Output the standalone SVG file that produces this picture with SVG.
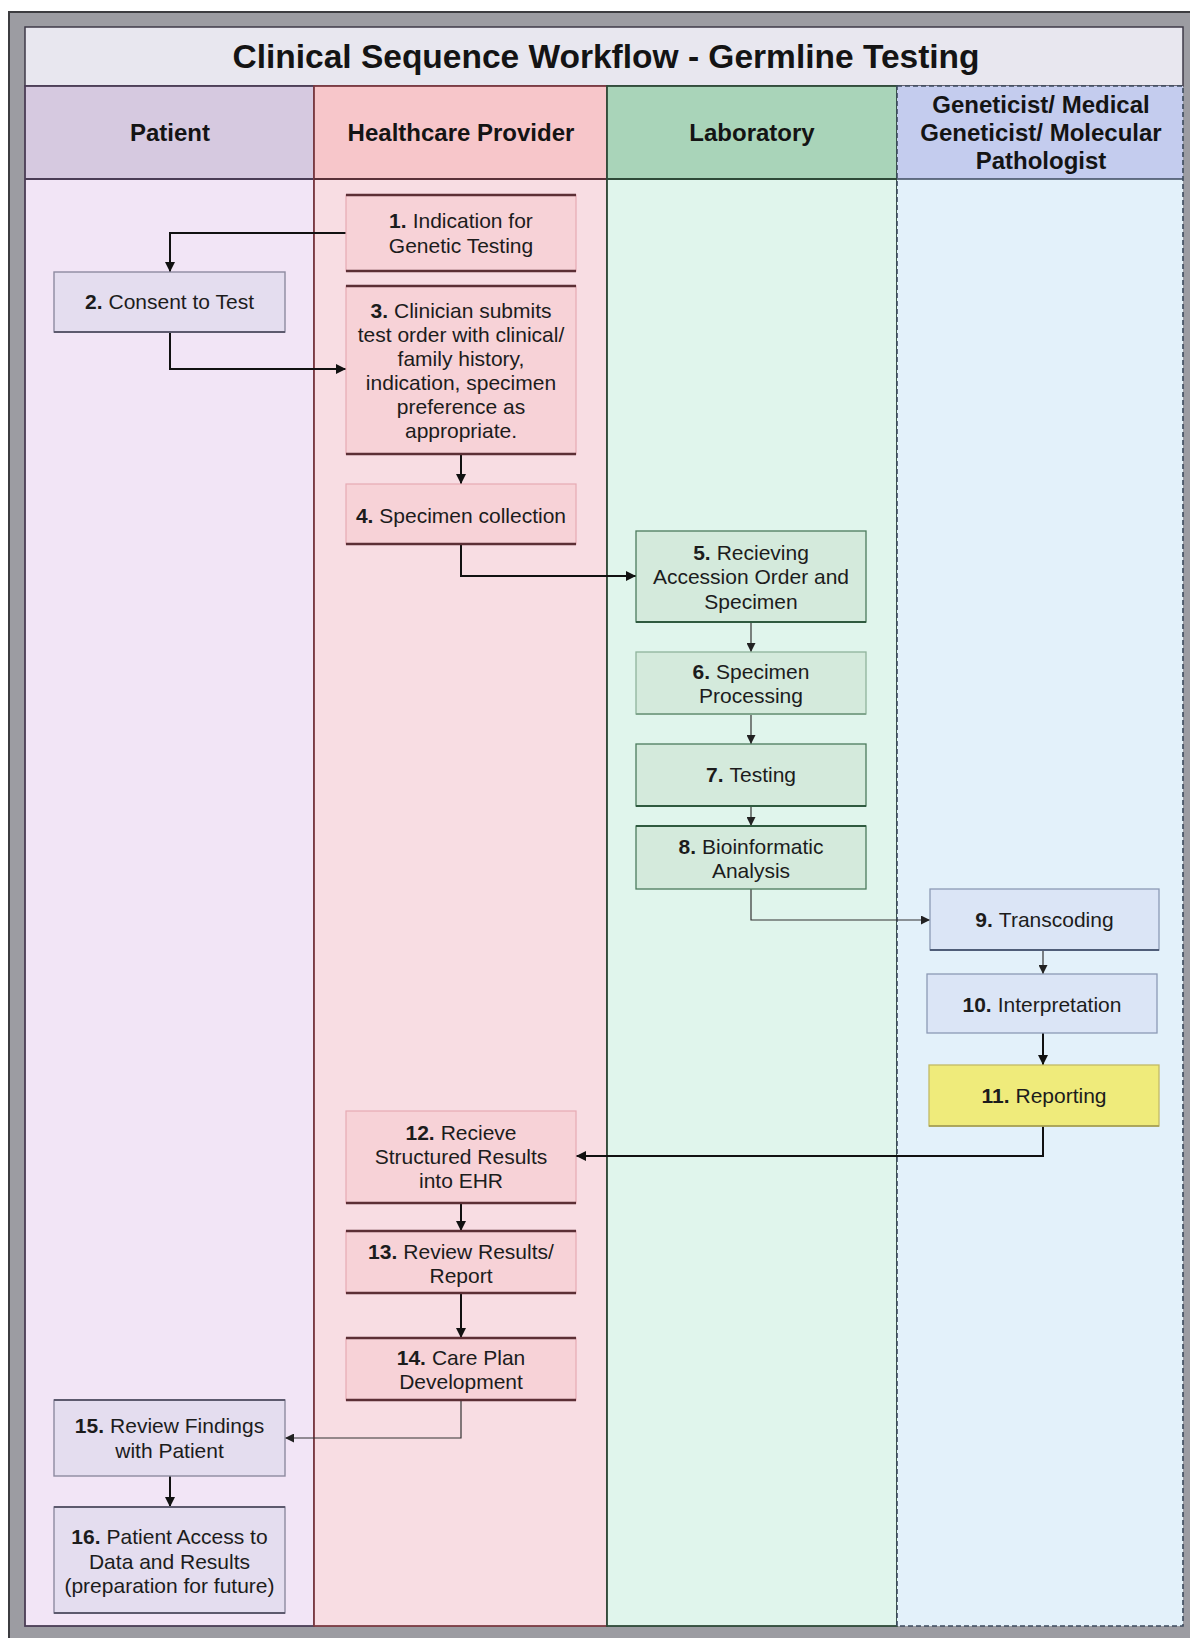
<svg xmlns="http://www.w3.org/2000/svg" width="1190" height="1638" viewBox="0 0 1190 1638">
  <style>
    text { font-family: "Liberation Sans", Arial, sans-serif; fill: #141414; text-anchor: middle; }
    .title { font-size: 33.5px; font-weight: bold; }
    .lane-title { font-size: 24px; font-weight: bold; }
    .lbl { font-size: 21px; fill: #1c1c1c; }
    .num { font-weight: bold; }
    .conn { fill: none; stroke: #111; stroke-width: 2; }
    .conn-thin { fill: none; stroke: #333; stroke-width: 1.2; }
    /* node looks per lane */
    .hp-box { fill: #f7d2d7; stroke: #e7aab3; stroke-width: 1.2; }
    .hp-edge { stroke: #5c2f35; stroke-width: 2.4; }
    .pt-box { fill: #e4ddef; stroke: #8e8aa0; stroke-width: 1.4; }
    .pt-edge { stroke: #5d5a6e; stroke-width: 1.8; }
    .lab-box { fill: #d4eadc; stroke: #4c7a5c; stroke-width: 1.3; }
    .lab-edge { stroke: #2f5a3f; stroke-width: 1.8; }
    .gen-box { fill: #dbe5f6; stroke: #8d9ab5; stroke-width: 1.3; }
    .gen-edge { stroke: #4f5d78; stroke-width: 1.8; }
    .rep-box { fill: #efeb7b; stroke: #c2bb66; stroke-width: 1.3; }
    .rep-edge { stroke: #a09a50; stroke-width: 1.6; }
  </style>
  <defs>
    <marker id="arrow" viewBox="0 0 10 10" refX="10" refY="5" markerWidth="10" markerHeight="10" markerUnits="userSpaceOnUse" orient="auto">
      <path d="M0,0 L10,5 L0,10 z" fill="#111"/>
    </marker>
    <marker id="arrow-sm" viewBox="0 0 10 10" refX="10" refY="5" markerWidth="9" markerHeight="9" markerUnits="userSpaceOnUse" orient="auto">
      <path d="M0,0 L10,5 L0,10 z" fill="#222"/>
    </marker>
  </defs>

  <!-- outer frame -->
  <g id="frame">
    <rect x="0" y="0" width="1190" height="1638" fill="#ffffff"/>
    <rect x="9" y="12" width="1200" height="1640" fill="#9c9ca2" stroke="#3c3c40" stroke-width="2"/>
  </g>

  <!-- pool title -->
  <g id="pool-title">
    <rect x="25" y="27" width="1158" height="59" fill="#e8e7ef" stroke="#3e3a48" stroke-width="1.5"/>
    <text class="title" x="606" y="68">Clinical Sequence Workflow - Germline Testing</text>
  </g>

  <!-- swimlanes -->
  <g id="lane-patient">
    <rect x="25" y="179" width="289" height="1447" fill="#f2e5f6"/>
    <rect x="25" y="86" width="289" height="93" fill="#d6c9e0"/>
    <rect x="25" y="86" width="289" height="1540" fill="none" stroke="#4a3c55" stroke-width="1.8"/>
    <line x1="25" y1="179" x2="314" y2="179" stroke="#4a3c55" stroke-width="1.8"/>
    <text class="lane-title" x="170" y="141">Patient</text>
  </g>
  <g id="lane-provider">
    <rect x="314" y="179" width="293" height="1447" fill="#f8dde3"/>
    <rect x="314" y="86" width="293" height="93" fill="#f7c6ca"/>
    <rect x="314" y="86" width="293" height="1540" fill="none" stroke="#7c3a42" stroke-width="1.8"/>
    <line x1="314" y1="179" x2="607" y2="179" stroke="#5a3038" stroke-width="1.8"/>
    <text class="lane-title" x="461" y="141">Healthcare Provider</text>
  </g>
  <g id="lane-laboratory">
    <rect x="607" y="179" width="290" height="1447" fill="#e0f5ec"/>
    <rect x="607" y="86" width="290" height="93" fill="#a9d4b9"/>
    <rect x="607" y="86" width="290" height="1540" fill="none" stroke="#2e4a38" stroke-width="1.8"/>
    <line x1="607" y1="179" x2="897" y2="179" stroke="#2e4a38" stroke-width="1.8"/>
    <text class="lane-title" x="752" y="141">Laboratory</text>
  </g>
  <g id="lane-geneticist">
    <rect x="897" y="179" width="286" height="1447" fill="#e3f1fa"/>
    <rect x="897" y="86" width="286" height="93" fill="#c4ccee"/>
    <rect x="897" y="86" width="286" height="1540" fill="none" stroke="#3c4a5e" stroke-width="1.6" stroke-dasharray="5 3"/>
    <line x1="897" y1="179" x2="1183" y2="179" stroke="#3c4a5e" stroke-width="1.6"/>
    <text class="lane-title" x="1041" y="113">Geneticist/ Medical</text>
    <text class="lane-title" x="1041" y="141">Geneticist/ Molecular</text>
    <text class="lane-title" x="1041" y="169">Pathologist</text>
  </g>

  <!-- connectors -->
  <g id="connectors">
    <path class="conn" d="M346,233 H170 V272" marker-end="url(#arrow)"/>
    <path class="conn" d="M170,332 V369 H346" marker-end="url(#arrow)"/>
    <path class="conn" d="M461,454 V484" marker-end="url(#arrow)"/>
    <path class="conn" d="M461,544 V576 H636" marker-end="url(#arrow)"/>
    <path class="conn-thin" d="M751,622 V652" marker-end="url(#arrow-sm)"/>
    <path class="conn-thin" d="M751,714 V744" marker-end="url(#arrow-sm)"/>
    <path class="conn-thin" d="M751,806 V826" marker-end="url(#arrow-sm)"/>
    <path class="conn-thin" d="M751,889 V920 H930" stroke="#555" marker-end="url(#arrow-sm)"/>
    <path class="conn-thin" d="M1043,950 V974" marker-end="url(#arrow-sm)"/>
    <path class="conn" d="M1043,1033 V1065" marker-end="url(#arrow)"/>
    <path class="conn" d="M1043,1126 V1156 H576" marker-end="url(#arrow)"/>
    <path class="conn" d="M461,1203 V1231" marker-end="url(#arrow)"/>
    <path class="conn" d="M461,1293 V1338" marker-end="url(#arrow)"/>
    <path class="conn-thin" d="M461,1400 V1438 H285" marker-end="url(#arrow-sm)"/>
    <path class="conn" d="M170,1476 V1507" marker-end="url(#arrow)"/>
  </g>

  <!-- healthcare provider nodes -->
  <g id="node-1">
    <rect class="hp-box" x="346" y="195" width="230" height="76"/>
    <line class="hp-edge" x1="346" y1="195" x2="576" y2="195"/>
    <line class="hp-edge" x1="346" y1="271" x2="576" y2="271"/>
    <text class="lbl" x="461" y="228"><tspan class="num">1.</tspan><tspan dx="6">Indication for</tspan></text>
    <text class="lbl" x="461" y="253">Genetic Testing</text>
  </g>
  <g id="node-3">
    <rect class="hp-box" x="346" y="286" width="230" height="168"/>
    <line class="hp-edge" x1="346" y1="286" x2="576" y2="286"/>
    <line class="hp-edge" x1="346" y1="454" x2="576" y2="454"/>
    <text class="lbl" x="461" y="318"><tspan class="num">3.</tspan><tspan dx="6">Clinician submits</tspan></text>
    <text class="lbl" x="461" y="342">test order with clinical/</text>
    <text class="lbl" x="461" y="366">family history,</text>
    <text class="lbl" x="461" y="390">indication, specimen</text>
    <text class="lbl" x="461" y="414">preference as</text>
    <text class="lbl" x="461" y="438">appropriate.</text>
  </g>
  <g id="node-4">
    <rect class="hp-box" x="346" y="484" width="230" height="60"/>
    <line class="hp-edge" x1="346" y1="544" x2="576" y2="544"/>
    <text class="lbl" x="461" y="523"><tspan class="num">4.</tspan> Specimen collection</text>
  </g>
  <g id="node-12">
    <rect class="hp-box" x="346" y="1111" width="230" height="92"/>
    <line class="hp-edge" x1="346" y1="1203" x2="576" y2="1203"/>
    <text class="lbl" x="461" y="1140"><tspan class="num">12.</tspan><tspan dx="6">Recieve</tspan></text>
    <text class="lbl" x="461" y="1164">Structured Results</text>
    <text class="lbl" x="461" y="1188">into EHR</text>
  </g>
  <g id="node-13">
    <rect class="hp-box" x="346" y="1231" width="230" height="62"/>
    <line class="hp-edge" x1="346" y1="1231" x2="576" y2="1231"/>
    <line class="hp-edge" x1="346" y1="1293" x2="576" y2="1293"/>
    <text class="lbl" x="461" y="1259"><tspan class="num">13.</tspan><tspan dx="6">Review Results/</tspan></text>
    <text class="lbl" x="461" y="1283">Report</text>
  </g>
  <g id="node-14">
    <rect class="hp-box" x="346" y="1338" width="230" height="62"/>
    <line class="hp-edge" x1="346" y1="1338" x2="576" y2="1338"/>
    <line class="hp-edge" x1="346" y1="1400" x2="576" y2="1400"/>
    <text class="lbl" x="461" y="1365"><tspan class="num">14.</tspan><tspan dx="6">Care Plan</tspan></text>
    <text class="lbl" x="461" y="1389">Development</text>
  </g>

  <!-- patient nodes -->
  <g id="node-2">
    <rect class="pt-box" x="54" y="272" width="231" height="60"/>
    <line class="pt-edge" x1="54" y1="332" x2="285" y2="332"/>
    <text class="lbl" x="169.5" y="309"><tspan class="num">2.</tspan><tspan dx="6">Consent to Test</tspan></text>
  </g>
  <g id="node-15">
    <rect class="pt-box" x="54" y="1400" width="231" height="76"/>
    <line class="pt-edge" x1="54" y1="1400" x2="285" y2="1400"/>
    <text class="lbl" x="169.5" y="1433"><tspan class="num">15.</tspan><tspan dx="6">Review Findings</tspan></text>
    <text class="lbl" x="169.5" y="1458">with Patient</text>
  </g>
  <g id="node-16">
    <rect class="pt-box" x="54" y="1507" width="231" height="106"/>
    <line class="pt-edge" x1="54" y1="1507" x2="285" y2="1507"/>
    <line class="pt-edge" x1="54" y1="1613" x2="285" y2="1613"/>
    <text class="lbl" x="169.5" y="1544"><tspan class="num">16.</tspan><tspan dx="6">Patient Access to</tspan></text>
    <text class="lbl" x="169.5" y="1569">Data and Results</text>
    <text class="lbl" x="169.5" y="1593">(preparation for future)</text>
  </g>

  <!-- laboratory nodes -->
  <g id="node-5">
    <rect class="lab-box" x="636" y="531" width="230" height="91"/>
    <line class="lab-edge" x1="636" y1="622" x2="866" y2="622"/>
    <text class="lbl" x="751" y="560"><tspan class="num">5.</tspan><tspan dx="6">Recieving</tspan></text>
    <text class="lbl" x="751" y="584">Accession Order and</text>
    <text class="lbl" x="751" y="609">Specimen</text>
  </g>
  <g id="node-6">
    <rect class="lab-box" x="636" y="652" width="230" height="62" style="stroke:#8fb39b"/>
    <line class="lab-edge" x1="636" y1="714" x2="866" y2="714" style="stroke:#7fa58c"/>
    <text class="lbl" x="751" y="679"><tspan class="num">6.</tspan><tspan dx="6">Specimen</tspan></text>
    <text class="lbl" x="751" y="703">Processing</text>
  </g>
  <g id="node-7">
    <rect class="lab-box" x="636" y="744" width="230" height="62"/>
    <line class="lab-edge" x1="636" y1="806" x2="866" y2="806"/>
    <text class="lbl" x="751" y="782"><tspan class="num">7.</tspan><tspan dx="6">Testing</tspan></text>
  </g>
  <g id="node-8">
    <rect class="lab-box" x="636" y="826" width="230" height="63"/>
    <line class="lab-edge" x1="636" y1="826" x2="866" y2="826"/>
    <text class="lbl" x="751" y="854"><tspan class="num">8.</tspan><tspan dx="6">Bioinformatic</tspan></text>
    <text class="lbl" x="751" y="878">Analysis</text>
  </g>

  <!-- geneticist nodes -->
  <g id="node-9">
    <rect class="gen-box" x="930" y="889" width="229" height="61"/>
    <line class="gen-edge" x1="930" y1="950" x2="1159" y2="950"/>
    <text class="lbl" x="1044.5" y="927"><tspan class="num">9.</tspan><tspan dx="6">Transcoding</tspan></text>
  </g>
  <g id="node-10">
    <rect class="gen-box" x="927" y="974" width="230" height="59"/>
    <text class="lbl" x="1042" y="1012"><tspan class="num">10.</tspan><tspan dx="6">Interpretation</tspan></text>
  </g>
  <g id="node-11">
    <rect class="rep-box" x="929" y="1065" width="230" height="61"/>
    <line class="rep-edge" x1="929" y1="1126" x2="1159" y2="1126"/>
    <text class="lbl" x="1044" y="1103"><tspan class="num">11.</tspan><tspan dx="6">Reporting</tspan></text>
  </g>
</svg>
